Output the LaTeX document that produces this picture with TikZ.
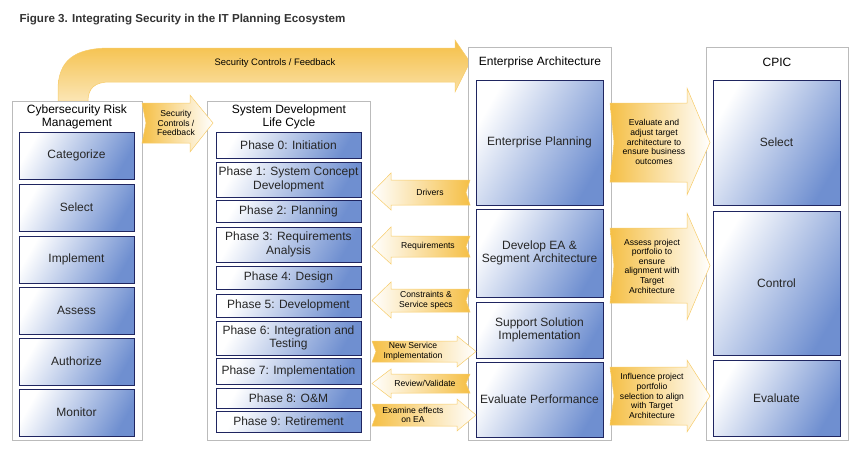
\documentclass[tikz,border=0pt]{standalone}
\usepackage{fontspec}
\setmainfont{Liberation Sans}
\definecolor{boxblue}{HTML}{6F8FD0}
\definecolor{boxline}{HTML}{1F2560}
\definecolor{arrorange}{HTML}{F5BF45}
\definecolor{panelgray}{HTML}{BBBBBB}
\definecolor{titlegray}{HTML}{333333}
\tikzset{
  panel/.style={draw=panelgray, fill=white, line width=0.8pt},
  phase/.style={draw=boxline, line width=0.9pt, shading=axis, left color=white, right color=boxblue, shading angle=60},
  paneltitle/.style={align=center, font=\fontsize{12}{13.5}\selectfont, text=black},
  boxtext/.style={align=center, font=\fontsize{12}{13.5}\selectfont, text=black!85},
  arrtext/.style={align=center, font=\fontsize{8.6}{9.6}\selectfont, text=black},
  rarr/.style={draw=arrorange!80, line width=0.5pt, left color=arrorange, right color=white},
  larr/.style={draw=arrorange!80, line width=0.5pt, left color=white, right color=arrorange}
}
% right arrow: x1 x2(tip) hx ytop ybot headtop headbot
\newcommand{\rightblock}[7]{%
  \path[rarr] (#1,#4) -- (#3,#4) -- (#3,#6) -- (#2,{(#4+#5)/2}) -- (#3,#7) -- (#3,#5) -- (#1,#5) -- ({#1+4},{(#4+#5)/2}) -- cycle;}
% left arrow: x1(tip) x2 hx ytop ybot headtop headbot
\newcommand{\leftblock}[7]{%
  \path[larr] (#2,#4) -- (#3,#4) -- (#3,#6) -- (#1,{(#4+#5)/2}) -- (#3,#7) -- (#3,#5) -- (#2,#5) -- ({#2-4},{(#4+#5)/2}) -- cycle;}
\newcommand{\phasebox}[6]{%
  \path[phase] (#2,#4) rectangle (#3,#5);
  \node[boxtext] (#1) at ({(#2+#3)/2},{(#4+#5)/2}) {#6};}
\begin{document}
\begin{tikzpicture}[x=1pt,y=-1pt]
\useasboundingbox (0,0) rectangle (863,455);
\node[anchor=west, font=\bfseries\fontsize{11.6}{13}\selectfont, text=titlegray] (title) at (16,20) {Figure 3. Integrating Security in the IT Planning Ecosystem};

% big curved arrow
\path[draw=arrorange!80, line width=0.5pt, top color=arrorange, bottom color=arrorange!40]
  (58,101) -- (58,90) .. controls (58,60) and (75,48) .. (110,48) -- (455,48) -- (455,40) -- (470,62)
  -- (455,92) -- (455,82) -- (110,82) .. controls (95,82) and (88,88) .. (88,101) -- cycle;
\node[arrtext, font=\fontsize{9.4}{10}\selectfont] (topfb) at (275,63) {Security Controls / Feedback};

% panels
\path[panel] (12,101) rectangle (142,440);
\path[panel] (207,101) rectangle (370,440);
\path[panel] (468,47) rectangle (611,440);
\path[panel] (706,47) rectangle (848,440);
\node[paneltitle] (csrm) at (77,117) {Cybersecurity Risk\\Management};
\node[paneltitle] (sdlc) at (289,117) {System Development\\Life Cycle};
\node[paneltitle] (ea) at (540,62) {Enterprise Architecture};
\node[paneltitle] (cpic) at (777,62) {CPIC};

% arrow between left panels
\rightblock{142}{213}{190}{103}{143}{95}{152}
\node[arrtext] (fb) at (176,123) {Security\\Controls /\\Feedback};

% risk management steps
\phasebox{cat}{19}{134}{132}{179}{Categorize}
\phasebox{sel}{19}{134}{184}{231}{Select}
\phasebox{imp}{19}{134}{236}{283}{Implement}
\phasebox{ass}{19}{134}{287}{334}{Assess}
\phasebox{aut}{19}{134}{338}{385}{Authorize}
\phasebox{mon}{19}{134}{389}{436}{Monitor}

% SDLC phases
\phasebox{ph0}{216}{361}{132}{158}{Phase 0: Initiation}
\phasebox{ph1}{216}{361}{162}{197}{Phase 1: System Concept\\Development}
\phasebox{ph2}{216}{361}{200}{222}{Phase 2: Planning}
\phasebox{ph3}{216}{361}{227}{262}{Phase 3: Requirements\\Analysis}
\phasebox{ph4}{216}{361}{266}{289}{Phase 4: Design}
\phasebox{ph5}{216}{361}{294}{317}{Phase 5: Development}
\phasebox{ph6}{216}{361}{321}{355}{Phase 6: Integration and\\Testing}
\phasebox{ph7}{216}{361}{358}{384}{Phase 7: Implementation}
\phasebox{ph8}{216}{361}{388}{408}{Phase 8: O\&M}
\phasebox{ph9}{216}{361}{411}{432}{Phase 9: Retirement}

% EA boxes
\phasebox{ep}{476}{603}{80}{205}{Enterprise Planning}
\phasebox{dev}{476}{603}{209}{297}{Develop EA \&\\Segment Architecture}
\phasebox{sup}{476}{603}{302}{358}{Support Solution\\Implementation}
\phasebox{evp}{476}{603}{362}{437}{Evaluate Performance}

% CPIC boxes
\phasebox{csel}{713}{840}{80}{205}{Select}
\phasebox{cctl}{713}{840}{211}{355}{Control}
\phasebox{ceva}{713}{840}{360}{436}{Evaluate}

% arrows between EA and SDLC
\leftblock{372}{470}{391}{180}{205}{173}{210}
\node[arrtext] (drv) at (430,192) {Drivers};
\leftblock{372}{470}{391}{236}{257}{227}{264}
\node[arrtext] (req) at (428,246) {Requirements};
\leftblock{372}{470}{391}{289}{312}{282}{318}
\node[arrtext] (con) at (426,300) {Constraints \&\\Service specs};
\rightblock{372}{476}{457}{341}{362}{336}{367}
\node[arrtext] (nsi) at (413,351) {New Service\\Implementation};
\leftblock{372}{470}{391}{374}{393}{369}{398}
\node[arrtext] (rev) at (425,383) {Review/Validate};
\rightblock{372}{476}{457}{404}{426}{399}{431}
\node[arrtext] (exa) at (413,415) {Examine effects\\on EA};

% arrows between EA and CPIC
\rightblock{610}{710}{687}{103}{182}{88}{195}
\node[arrtext] (evadj) at (654,142) {Evaluate and\\adjust target\\architecture to\\ensure business\\outcomes};
\rightblock{610}{710}{687}{228}{303}{213}{320}
\node[arrtext] (assp) at (652,266) {Assess project\\portfolio to\\ensure\\alignment with\\Target\\Architecture};
\rightblock{610}{710}{687}{367}{425}{360}{432}
\node[arrtext] (infl) at (652,396) {Influence project\\portfolio\\selection to align\\with Target\\Architecture};
\end{tikzpicture}
\end{document}
